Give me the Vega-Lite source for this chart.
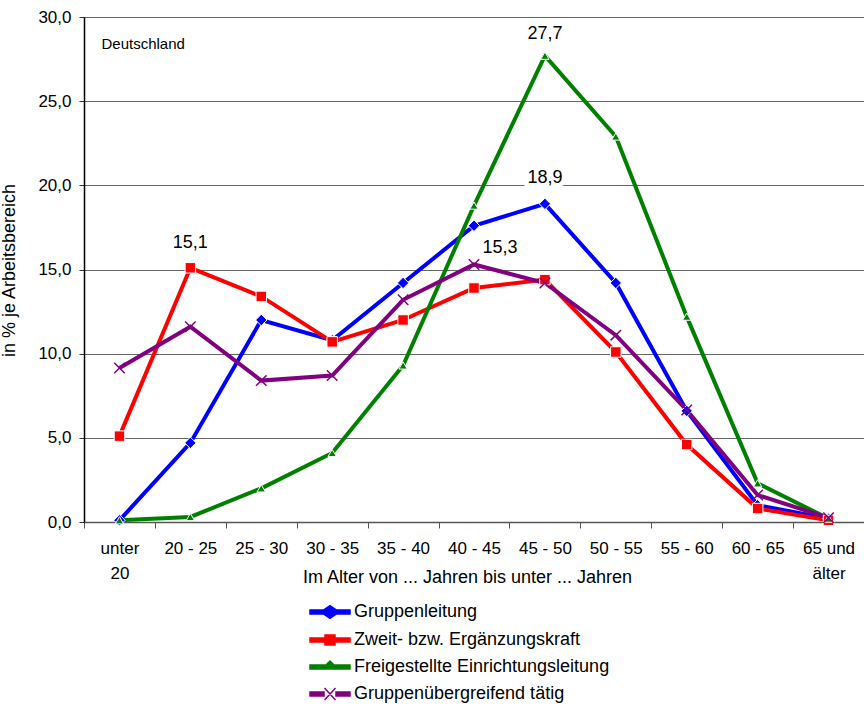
{
  "$schema": "https://vega.github.io/schema/vega-lite/v6.json",
  "width": 780,
  "height": 505,
  "autosize": {"type": "none"},
  "padding": {"left": 84, "top": 17, "right": 0, "bottom": 186},
  "background": "white",
  "config": {
    "font": "Liberation Sans",
    "view": {"stroke": null}
  },
  "datasets": {
    "main": [
      {"age": "unter 20", "series": "Gruppenleitung", "value": 0.1},
      {"age": "20 - 25", "series": "Gruppenleitung", "value": 4.7},
      {"age": "25 - 30", "series": "Gruppenleitung", "value": 12.0},
      {"age": "30 - 35", "series": "Gruppenleitung", "value": 10.8},
      {"age": "35 - 40", "series": "Gruppenleitung", "value": 14.2},
      {"age": "40 - 45", "series": "Gruppenleitung", "value": 17.6},
      {"age": "45 - 50", "series": "Gruppenleitung", "value": 18.9},
      {"age": "50 - 55", "series": "Gruppenleitung", "value": 14.2},
      {"age": "55 - 60", "series": "Gruppenleitung", "value": 6.6},
      {"age": "60 - 65", "series": "Gruppenleitung", "value": 1.0},
      {"age": "65 und älter", "series": "Gruppenleitung", "value": 0.2},
      {"age": "unter 20", "series": "Zweit- bzw. Ergänzungskraft", "value": 5.1},
      {"age": "20 - 25", "series": "Zweit- bzw. Ergänzungskraft", "value": 15.1},
      {"age": "25 - 30", "series": "Zweit- bzw. Ergänzungskraft", "value": 13.4},
      {"age": "30 - 35", "series": "Zweit- bzw. Ergänzungskraft", "value": 10.7},
      {"age": "35 - 40", "series": "Zweit- bzw. Ergänzungskraft", "value": 12.0},
      {"age": "40 - 45", "series": "Zweit- bzw. Ergänzungskraft", "value": 13.9},
      {"age": "45 - 50", "series": "Zweit- bzw. Ergänzungskraft", "value": 14.4},
      {"age": "50 - 55", "series": "Zweit- bzw. Ergänzungskraft", "value": 10.1},
      {"age": "55 - 60", "series": "Zweit- bzw. Ergänzungskraft", "value": 4.6},
      {"age": "60 - 65", "series": "Zweit- bzw. Ergänzungskraft", "value": 0.8},
      {"age": "65 und älter", "series": "Zweit- bzw. Ergänzungskraft", "value": 0.1},
      {"age": "unter 20", "series": "Freigestellte Einrichtungsleitung", "value": 0.1},
      {"age": "20 - 25", "series": "Freigestellte Einrichtungsleitung", "value": 0.3},
      {"age": "25 - 30", "series": "Freigestellte Einrichtungsleitung", "value": 2.0},
      {"age": "30 - 35", "series": "Freigestellte Einrichtungsleitung", "value": 4.1},
      {"age": "35 - 40", "series": "Freigestellte Einrichtungsleitung", "value": 9.3},
      {"age": "40 - 45", "series": "Freigestellte Einrichtungsleitung", "value": 18.8},
      {"age": "45 - 50", "series": "Freigestellte Einrichtungsleitung", "value": 27.7},
      {"age": "50 - 55", "series": "Freigestellte Einrichtungsleitung", "value": 22.9},
      {"age": "55 - 60", "series": "Freigestellte Einrichtungsleitung", "value": 12.2},
      {"age": "60 - 65", "series": "Freigestellte Einrichtungsleitung", "value": 2.3},
      {"age": "65 und älter", "series": "Freigestellte Einrichtungsleitung", "value": 0.2},
      {"age": "unter 20", "series": "Gruppenübergreifend tätig", "value": 9.15},
      {"age": "20 - 25", "series": "Gruppenübergreifend tätig", "value": 11.6},
      {"age": "25 - 30", "series": "Gruppenübergreifend tätig", "value": 8.4},
      {"age": "30 - 35", "series": "Gruppenübergreifend tätig", "value": 8.7},
      {"age": "35 - 40", "series": "Gruppenübergreifend tätig", "value": 13.2},
      {"age": "40 - 45", "series": "Gruppenübergreifend tätig", "value": 15.3},
      {"age": "45 - 50", "series": "Gruppenübergreifend tätig", "value": 14.2},
      {"age": "50 - 55", "series": "Gruppenübergreifend tätig", "value": 11.1},
      {"age": "55 - 60", "series": "Gruppenübergreifend tätig", "value": 6.65},
      {"age": "60 - 65", "series": "Gruppenübergreifend tätig", "value": 1.6},
      {"age": "65 und älter", "series": "Gruppenübergreifend tätig", "value": 0.25}
    ],
    "labels": [
      {"age": "20 - 25", "value": 15.1, "label": "15,1", "key": "a"},
      {"age": "45 - 50", "value": 27.7, "label": "27,7", "key": "b"},
      {"age": "45 - 50", "value": 18.9, "label": "18,9", "key": "c"},
      {"age": "40 - 45", "value": 15.3, "label": "15,3", "key": "d"}
    ],
    "note": [
      {"age": "unter 20", "value": 28.4, "label": "Deutschland"}
    ]
  },
  "encoding": {
    "x": {
      "field": "age",
      "type": "nominal",
      "sort": ["unter 20", "20 - 25", "25 - 30", "30 - 35", "35 - 40", "40 - 45", "45 - 50", "50 - 55", "55 - 60", "60 - 65", "65 und älter"],
      "scale": {"type": "band", "paddingInner": 0, "paddingOuter": 0},
      "axis": {
        "title": "Im Alter von ... Jahren bis unter ... Jahren",
        "titleFont": "Liberation Sans",
        "titleFontSize": 18,
        "titleFontWeight": "normal",
        "titleColor": "#000",
        "titleX": 383,
        "titleY": 46,
        "titleBaseline": "top",
        "labelAngle": 0,
        "labelFontSize": 17,
        "labelColor": "#000",
        "labelPadding": 12,
        "labelLineHeight": 25,
        "labelBaseline": "top",
        "labelExpr": "datum.label == 'unter 20' ? ['unter', '20'] : (datum.label == '65 und älter' ? ['65 und', 'älter'] : datum.label)",
        "tickBand": "extent",
        "tickSize": 6,
        "tickColor": "#555",
        "domainColor": "#555",
        "domainWidth": 1.5,
        "grid": false
      }
    },
    "y": {
      "field": "value",
      "type": "quantitative",
      "scale": {"domain": [0, 30], "nice": false, "zero": true},
      "axis": {
        "title": "in % je Arbeitsbereich",
        "titleFontSize": 18,
        "titleFontWeight": "normal",
        "titleColor": "#000",
        "titleX": -66,
        "titleY": 253,
        "titleAngle": 270,
        "values": [0, 5, 10, 15, 20, 25, 30],
        "labelExpr": "replace(format(datum.value, '.1f'), '.', ',')",
        "labelFontSize": 17,
        "labelColor": "#000",
        "labelPadding": 8,
        "tickSize": 5,
        "tickColor": "#333",
        "domainColor": "#000",
        "domainWidth": 1.5,
        "grid": true,
        "gridColor": "#666",
        "gridWidth": 1
      }
    }
  },
  "layer": [
    {
      "data": {"name": "labels"},
      "transform": [{"filter": "datum.key == 'c'"}],
      "mark": {"type": "text", "fontSize": 18, "color": "white", "stroke": "white", "strokeWidth": 9, "dy": -26},
      "encoding": {"text": {"field": "label"}}
    },
    {
      "data": {"name": "main"},
      "mark": {"type": "line", "strokeWidth": 4},
      "encoding": {
        "color": {
          "field": "series",
          "type": "nominal",
          "scale": {
            "domain": ["Gruppenleitung", "Zweit- bzw. Ergänzungskraft", "Freigestellte Einrichtungsleitung", "Gruppenübergreifend tätig"],
            "range": ["#0000FF", "#FF0000", "#008000", "#800080"]
          },
          "legend": {
            "title": null,
            "orient": "none",
            "legendX": 235,
            "legendY": 584,
            "direction": "vertical",
            "padding": 0,
            "labelFontSize": 18,
            "labelColor": "#000",
            "labelLimit": 400,
            "symbolSize": 400,
            "rowPadding": 7,
            "labelOffset": 13,
            "symbolType": "stroke",
            "encode": {
              "symbols": {
                "update": {
                  "shape": {"signal": "datum.value == 'Gruppenleitung' ? 'M-2,-0.2L-0.66,-0.2L0,-0.64L0.66,-0.2L2,-0.2L2,0.2L0.66,0.2L0,0.64L-0.66,0.2L-2,0.2Z' : (datum.value == 'Zweit- bzw. Ergänzungskraft' ? 'M-2,-0.2L-0.5,-0.2L-0.5,-0.5L0.5,-0.5L0.5,-0.2L2,-0.2L2,0.2L0.5,0.2L0.5,0.5L-0.5,0.5L-0.5,0.2L-2,0.2Z' : (datum.value == 'Freigestellte Einrichtungsleitung' ? 'M-2,-0.2L-0.4,-0.2L0,-0.6L0.4,-0.2L2,-0.2L2,0.2L-2,0.2Z' : 'M-2,-0.2L-0.6,-0.2L-0.6,0.2L-2,0.2ZM0.6,-0.2L2,-0.2L2,0.2L0.6,0.2ZM-0.55,-0.6L0.55,0.6M-0.55,0.6L0.55,-0.6'))"},
                  "fill": {"signal": "datum.value == 'Gruppenleitung' ? '#0000FF' : (datum.value == 'Zweit- bzw. Ergänzungskraft' ? '#FF0000' : (datum.value == 'Freigestellte Einrichtungsleitung' ? '#008000' : '#800080'))"},
                  "stroke": {"signal": "datum.value == 'Gruppenübergreifend tätig' ? '#800080' : null"},
                  "strokeWidth": {"value": 1.5},
                  "fillOpacity": {"value": 1}
                }
              }
            }
          }
        }
      }
    },
    {
      "data": {"name": "main"},
      "transform": [{"filter": "datum.series == 'Gruppenleitung'"}],
      "mark": {"type": "point", "shape": "diamond", "filled": true, "size": 130, "fill": "#0000FF", "stroke": "white", "strokeWidth": 1, "opacity": 1}
    },
    {
      "data": {"name": "main"},
      "transform": [{"filter": "datum.series == 'Zweit- bzw. Ergänzungskraft'"}],
      "mark": {"type": "point", "shape": "square", "filled": true, "size": 110, "fill": "#FF0000", "stroke": "white", "strokeWidth": 1, "opacity": 1}
    },
    {
      "data": {"name": "main"},
      "transform": [{"filter": "datum.series == 'Freigestellte Einrichtungsleitung'"}],
      "mark": {"type": "point", "shape": "triangle-up", "filled": true, "size": 70, "fill": "#008000", "stroke": "white", "strokeWidth": 1, "opacity": 1}
    },
    {
      "data": {"name": "main"},
      "transform": [{"filter": "datum.series == 'Gruppenübergreifend tätig'"}],
      "mark": {"type": "point", "shape": "M-1,-1L1,1M-1,1L1,-1", "filled": false, "size": 110, "stroke": "#800080", "strokeWidth": 1.5, "opacity": 1}
    },
    {
      "data": {"name": "labels"},
      "transform": [{"filter": "datum.key == 'a'"}],
      "mark": {"type": "text", "fontSize": 18, "color": "#000", "dy": -25},
      "encoding": {"text": {"field": "label"}}
    },
    {
      "data": {"name": "labels"},
      "transform": [{"filter": "datum.key == 'b'"}],
      "mark": {"type": "text", "fontSize": 18, "color": "#000", "dy": -22},
      "encoding": {"text": {"field": "label"}}
    },
    {
      "data": {"name": "labels"},
      "transform": [{"filter": "datum.key == 'c'"}],
      "mark": {"type": "text", "fontSize": 18, "color": "#000", "dy": -26},
      "encoding": {"text": {"field": "label"}}
    },
    {
      "data": {"name": "labels"},
      "transform": [{"filter": "datum.key == 'd'"}],
      "mark": {"type": "text", "fontSize": 18, "color": "#000", "dy": -16, "dx": 26},
      "encoding": {"text": {"field": "label"}}
    },
    {
      "data": {"name": "note"},
      "mark": {"type": "text", "fontSize": 15, "color": "#000", "align": "left", "dx": -18},
      "encoding": {"text": {"field": "label"}}
    }
  ]
}
